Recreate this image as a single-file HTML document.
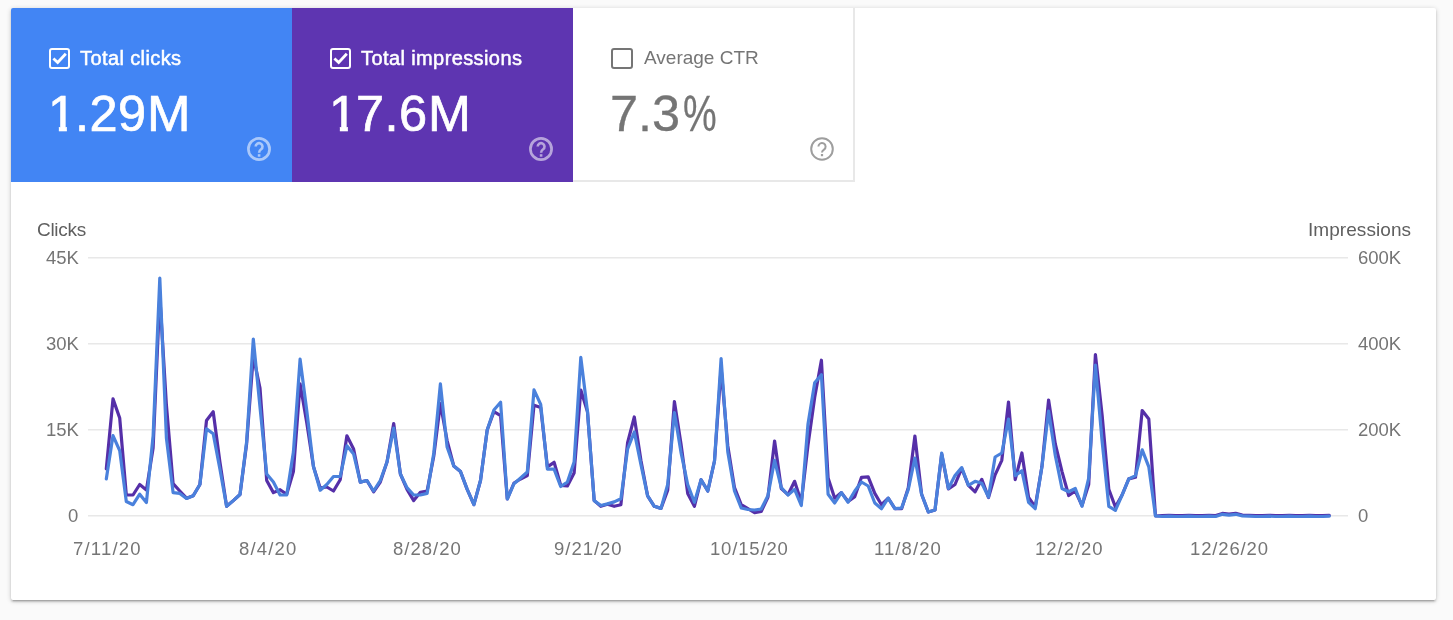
<!DOCTYPE html>
<html>
<head>
<meta charset="utf-8">
<title>Performance</title>
<style>
html,body{margin:0;padding:0;}
body{width:1453px;height:620px;background:#fafafa;overflow:hidden;position:relative;font-family:"Liberation Sans",sans-serif;}
.card{position:absolute;left:11px;top:8px;width:1425px;height:592px;background:#fff;border-radius:2px;box-shadow:0 1px 5px 0 rgba(0,0,0,.2),0 2px 2px 0 rgba(0,0,0,.14),0 3px 1px -2px rgba(0,0,0,.12);}
.tile{position:absolute;top:0;height:174px;width:281px;box-sizing:border-box;}
.t1{left:0;background:#4285f4;color:#fff;border-top-left-radius:2px;}
.t2{left:281px;background:#5e35b1;color:#fff;}
.t3{left:562px;background:#fff;color:#757575;border-right:2px solid #e8e8e8;border-bottom:2px solid #e8e8e8;width:282px;height:174px;}
.cb{position:absolute;left:38px;top:40px;width:21px;height:21px;box-sizing:border-box;border:2px solid #fff;border-radius:3px;}
.t3 .cb{border-color:#757575;width:21.6px;}
.cb svg{position:absolute;left:0;top:0;}
.lbl{position:absolute;left:69px;top:38px;font-size:20px;line-height:24px;white-space:nowrap;letter-spacing:0.4px;-webkit-text-stroke:0.5px #fff;}
.t3 .lbl{font-size:19px;letter-spacing:0;-webkit-text-stroke:0;left:70.5px;top:38.3px;}
.val{position:absolute;left:37px;top:78px;font-size:50.5px;line-height:56px;white-space:nowrap;letter-spacing:0.5px;-webkit-text-stroke:0.7px #fff;}
.t3 .val{letter-spacing:0;-webkit-text-stroke:0.3px #757575;}
.one{display:inline-block;margin-right:-1.7px;clip-path:polygon(0 0,100% 0,100% 72.5%,66% 72.5%,66% 100%,38% 100%,38% 72.5%,0 72.5%);}
.em{display:inline-block;transform:scaleX(1.035);transform-origin:0 50%;}
.pct{display:inline-block;transform:scaleX(0.75);transform-origin:0 50%;margin-left:2.3px;}
.help{position:absolute;left:234px;top:127px;width:28px;height:28px;}
.t2 .help,.t3 .help{left:235px;top:127.4px;}
.ax,.lbl,.val{will-change:transform;}
.ax{position:absolute;font-size:18.5px;line-height:20px;color:#757575;white-space:nowrap;}
.axt{color:#5f5f5f;font-size:19px;}
.dt{top:538.5px;font-size:18.5px;}
.num{letter-spacing:-0.2px;}
svg.chart{position:absolute;left:0;top:0;}
</style>
</head>
<body>
<div class="card"></div>
<div class="card" style="box-shadow:none;background:transparent;">
  <div class="tile t1">
    <div class="cb"><svg width="17" height="17" viewBox="0 0 17 17"><path d="M2.4 8.4 L6.7 12.5 L14.8 3.8" fill="none" stroke="#fff" stroke-width="2.8"/></svg></div>
    <div class="lbl">Total clicks</div>
    <div class="val"><span class="one">1</span>.29<span class="em">M</span></div>
    <svg class="help" viewBox="0 0 28 28"><g opacity=".55"><circle cx="14" cy="14" r="10.6" fill="none" stroke="#fff" stroke-width="2.7"/><path d="M10.7 11.5a3.4 3.4 0 1 1 5.4 2.8c-1.3.9-2 1.6-2 3.4" fill="none" stroke="#fff" stroke-width="2.6"/><rect x="12.8" y="19.2" width="2.6" height="2.5" fill="#fff"/></g></svg>
  </div>
  <div class="tile t2">
    <div class="cb"><svg width="17" height="17" viewBox="0 0 17 17"><path d="M2.4 8.4 L6.7 12.5 L14.8 3.8" fill="none" stroke="#fff" stroke-width="2.8"/></svg></div>
    <div class="lbl">Total impressions</div>
    <div class="val"><span class="one">1</span>7.6<span class="em" style="transform:scaleX(1.02)">M</span></div>
    <svg class="help" viewBox="0 0 28 28"><g opacity=".55"><circle cx="14" cy="14" r="10.6" fill="none" stroke="#fff" stroke-width="2.7"/><path d="M10.7 11.5a3.4 3.4 0 1 1 5.4 2.8c-1.3.9-2 1.6-2 3.4" fill="none" stroke="#fff" stroke-width="2.6"/><rect x="12.8" y="19.2" width="2.6" height="2.5" fill="#fff"/></g></svg>
  </div>
  <div class="tile t3">
    <div class="cb"></div>
    <div class="lbl">Average CTR</div>
    <div class="val">7.3<span class="pct">%</span></div>
    <svg class="help" viewBox="0 0 28 28"><circle cx="14" cy="14" r="10.8" fill="none" stroke="#9e9e9e" stroke-width="2"/><path d="M10.4 11.6a3.6 3.6 0 1 1 5.6 3c-1.2.8-2 1.5-2 3" fill="none" stroke="#9e9e9e" stroke-width="2"/><rect x="12.9" y="19" width="2.2" height="2.2" fill="#9e9e9e"/></svg>
  </div>
</div>

<svg class="chart" width="1453" height="620" viewBox="0 0 1453 620">
  <g stroke="#e8e8e8" stroke-width="1.5">
    <line x1="88" y1="257.7" x2="1348" y2="257.7"/>
    <line x1="88" y1="343.8" x2="1348" y2="343.8"/>
    <line x1="88" y1="429.8" x2="1348" y2="429.8"/>
    <line x1="88" y1="515.8" x2="1348" y2="515.8"/>
  </g>
  <polyline fill="none" stroke="#552fa8" stroke-width="3.2" stroke-linejoin="round" stroke-linecap="round" points="106.3,469.0 113.0,398.9 119.7,418.0 126.3,495.0 133.0,495.0 139.7,484.5 146.4,490.0 153.1,448.0 159.8,296.0 166.4,405.0 173.1,483.7 179.8,491.0 186.5,498.2 193.2,495.8 199.9,484.5 206.5,420.5 213.2,411.7 219.9,462.0 226.6,506.3 233.3,500.6 240.0,494.5 246.6,444.0 253.3,356.0 260.0,388.0 266.7,480.5 273.4,492.6 280.1,489.7 286.7,494.2 293.4,471.6 300.1,383.8 306.8,423.0 313.5,466.8 320.2,488.0 326.8,487.0 333.5,491.0 340.2,479.7 346.9,435.8 353.6,449.0 360.3,482.1 366.9,480.5 373.6,491.8 380.3,482.0 387.0,462.0 393.7,423.5 400.4,474.0 407.0,489.4 413.7,500.6 420.4,492.3 427.1,491.0 433.8,456.0 440.4,403.5 447.1,440.6 453.8,466.0 460.5,471.6 467.2,489.4 473.9,504.7 480.5,480.5 487.2,430.0 493.9,411.6 500.6,415.6 507.3,499.0 514.0,483.0 520.6,479.0 527.3,475.6 534.0,405.2 540.7,407.6 547.4,466.8 554.1,462.3 560.7,485.3 567.4,486.0 574.1,473.0 580.8,390.0 587.5,411.8 594.2,500.6 600.8,506.3 607.5,504.2 614.2,506.3 620.9,504.7 627.6,442.6 634.3,417.0 640.9,460.3 647.6,495.8 654.3,506.3 661.0,508.4 667.7,490.2 674.4,401.6 681.0,444.0 687.7,493.4 694.4,506.3 701.1,479.7 707.8,491.0 714.5,461.0 721.1,368.0 727.8,446.0 734.5,487.7 741.2,504.7 747.9,508.7 754.6,512.7 761.2,511.5 767.9,497.4 774.6,441.0 781.3,488.5 788.0,494.7 794.6,481.3 801.3,502.0 808.0,445.0 814.7,397.3 821.4,360.2 828.1,478.0 834.7,498.2 841.4,492.6 848.1,501.5 854.8,496.6 861.5,477.3 868.2,476.8 874.8,493.4 881.5,504.7 888.2,498.2 894.9,508.7 901.6,508.7 908.3,487.7 914.9,436.0 921.6,494.2 928.3,512.0 935.0,510.0 941.7,454.0 948.4,489.0 955.0,484.5 961.7,468.4 968.4,485.3 975.1,491.8 981.8,479.3 988.5,497.5 995.1,474.8 1001.8,460.3 1008.5,402.0 1015.2,479.7 1021.9,453.0 1028.6,497.4 1035.2,507.0 1041.9,466.8 1048.6,400.0 1055.3,444.0 1062.0,471.6 1068.7,495.5 1075.3,491.0 1082.0,505.5 1088.7,484.5 1095.4,354.5 1102.1,415.0 1108.8,489.4 1115.4,507.0 1122.1,495.0 1128.8,478.9 1135.5,477.3 1142.2,410.5 1148.8,419.0 1155.5,516.0 1162.2,515.6 1168.9,515.3 1175.6,515.6 1182.3,515.6 1188.9,515.3 1195.6,515.6 1202.3,515.6 1209.0,515.3 1215.7,515.6 1222.4,513.4 1229.0,514.2 1235.7,513.4 1242.4,515.0 1249.1,515.3 1255.8,515.6 1262.5,515.6 1269.1,515.3 1275.8,515.6 1282.5,515.6 1289.2,515.3 1295.9,515.6 1302.6,515.6 1309.2,515.3 1315.9,515.6 1322.6,515.6 1329.3,515.3"/>
  <polyline fill="none" stroke="#4a81dc" stroke-width="3.2" stroke-linejoin="round" stroke-linecap="round" points="106.3,478.9 113.0,435.6 119.7,450.6 126.3,501.5 133.0,504.7 139.7,494.2 146.4,502.6 153.1,436.0 159.8,278.0 166.4,438.0 173.1,492.6 179.8,493.4 186.5,498.5 193.2,495.8 199.9,484.5 206.5,428.9 213.2,433.7 219.9,469.0 226.6,506.3 233.3,500.6 240.0,494.5 246.6,442.0 253.3,339.0 260.0,407.0 266.7,474.0 273.4,482.0 280.1,495.0 286.7,495.0 293.4,452.0 300.1,359.1 306.8,411.0 313.5,466.8 320.2,490.2 326.8,484.5 333.5,476.5 340.2,476.5 346.9,445.8 353.6,453.9 360.3,482.1 366.9,480.5 373.6,491.0 380.3,480.5 387.0,462.0 393.7,428.0 400.4,474.0 407.0,487.7 413.7,495.0 420.4,495.0 427.1,493.4 433.8,453.0 440.4,383.9 447.1,447.0 453.8,466.0 460.5,471.6 467.2,489.4 473.9,504.7 480.5,480.5 487.2,430.0 493.9,410.0 500.6,402.3 507.3,499.0 514.0,483.7 520.6,478.0 527.3,472.0 534.0,389.8 540.7,404.4 547.4,469.2 554.1,469.2 560.7,486.5 567.4,482.0 574.1,462.0 580.8,357.4 587.5,411.8 594.2,500.6 600.8,505.5 607.5,503.9 614.2,501.9 620.9,498.7 627.6,449.0 634.3,432.0 640.9,464.4 647.6,495.8 654.3,506.3 661.0,508.4 667.7,484.5 674.4,412.6 681.0,452.3 687.7,484.5 694.4,502.3 701.1,479.7 707.8,491.0 714.5,461.0 721.1,358.5 727.8,452.0 734.5,491.0 741.2,508.0 747.9,509.5 754.6,510.0 761.2,509.0 767.9,495.8 774.6,460.3 781.3,487.7 788.0,495.0 794.6,489.4 801.3,505.5 808.0,424.0 814.7,382.7 821.4,374.7 828.1,494.2 834.7,503.0 841.4,492.6 848.1,502.3 854.8,491.0 861.5,482.0 868.2,486.0 874.8,503.0 881.5,508.7 888.2,498.2 894.9,508.7 901.6,508.0 908.3,489.4 914.9,458.0 921.6,494.2 928.3,512.0 935.0,510.0 941.7,453.0 948.4,488.5 955.0,475.6 961.7,467.6 968.4,485.3 975.1,481.3 981.8,483.3 988.5,497.0 995.1,457.0 1001.8,453.0 1008.5,419.0 1015.2,475.6 1021.9,470.8 1028.6,502.3 1035.2,508.7 1041.9,466.8 1048.6,411.0 1055.3,455.5 1062.0,488.5 1068.7,491.8 1075.3,488.5 1082.0,506.3 1088.7,478.0 1095.4,365.0 1102.1,441.0 1108.8,506.3 1115.4,510.3 1122.1,495.0 1128.8,478.9 1135.5,475.6 1142.2,449.8 1148.8,466.8 1155.5,516.0 1162.2,516.5 1168.9,516.2 1175.6,516.5 1182.3,516.5 1188.9,516.2 1195.6,516.5 1202.3,516.5 1209.0,516.2 1215.7,516.5 1222.4,514.3 1229.0,515.1 1235.7,514.3 1242.4,515.9 1249.1,516.2 1255.8,516.5 1262.5,516.5 1269.1,516.2 1275.8,516.5 1282.5,516.5 1289.2,516.2 1295.9,516.5 1302.6,516.5 1309.2,516.2 1315.9,516.5 1322.6,516.5 1329.3,516.2"/>
</svg>

<div class="ax axt" style="left:36.5px;top:220.4px;letter-spacing:-0.3px;">Clicks</div>
<div class="ax axt" style="left:1307.8px;top:220.4px;letter-spacing:0.06px;">Impressions</div>
<div class="ax" style="left:46px;top:248px;">45K</div>
<div class="ax" style="left:46px;top:334px;">30K</div>
<div class="ax" style="left:46px;top:420px;">15K</div>
<div class="ax" style="left:68px;top:506px;">0</div>
<div class="ax" style="left:1358px;top:248px;">600K</div>
<div class="ax" style="left:1358px;top:334px;">400K</div>
<div class="ax" style="left:1358px;top:420px;">200K</div>
<div class="ax" style="left:1358px;top:506px;">0</div>
<div class="ax dt" style="left:72.7px;letter-spacing:1.2px;">7/11/20</div>
<div class="ax dt" style="left:238.8px;letter-spacing:1.17px;">8/4/20</div>
<div class="ax dt" style="left:392.8px;letter-spacing:1.0px;">8/28/20</div>
<div class="ax dt" style="left:553.6px;letter-spacing:0.98px;">9/21/20</div>
<div class="ax dt" style="left:709.5px;letter-spacing:0.83px;">10/15/20</div>
<div class="ax dt" style="left:874.2px;letter-spacing:1.08px;">11/8/20</div>
<div class="ax dt" style="left:1034.7px;letter-spacing:0.97px;">12/2/20</div>
<div class="ax dt" style="left:1190.1px;letter-spacing:0.86px;">12/26/20</div>
</body>
</html>
